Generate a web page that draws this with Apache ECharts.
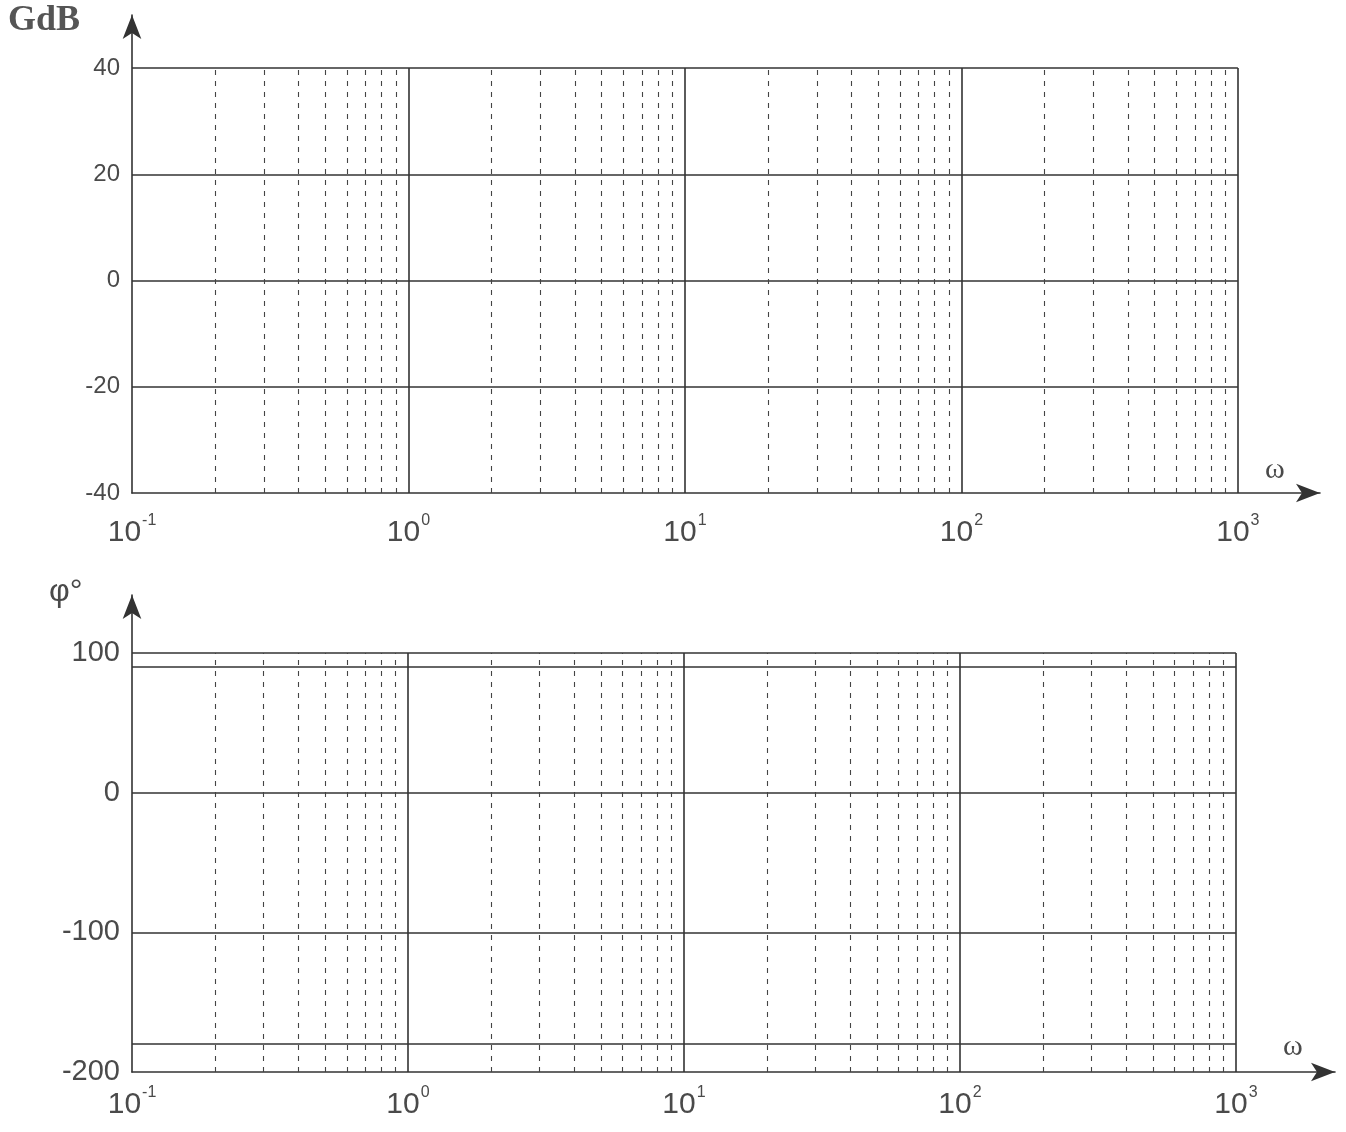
<!DOCTYPE html>
<html>
<head>
<meta charset="utf-8">
<script src="https://cdn.jsdelivr.net/npm/echarts@6/dist/echarts.min.js"></script>
<style>html,body{margin:0;padding:0;background:#fff;}#c{width:1346px;height:1132px;}</style>
</head>
<body>
<div id="c"></div>
<script>
// ---- data ----
const decades = [0.1, 1, 10, 100, 1000];           // ω decade marks
const minorMultipliers = [2, 3, 4, 5, 6, 7, 8, 9];  // dashed lines in each decade
const xTickExponents = [-1, 0, 1, 2, 3];            // tick labels 10^n
const gainTicks = [-40, -20, 0, 20, 40];            // GdB tick labels
const gainGridLines = [40, 20, 0, -20];             // horizontal solid lines (dB)
const gainRange = [-40, 40];
const phaseTicks = [-200, -100, 0, 100];            // φ° tick labels
const phaseGridLines = [100, 90, 0, -100, -180];    // horizontal solid lines (deg)
const phaseRange = [-200, 100];

// ---- build ----
const lg = Math.log10;
const wMin = decades[0], wMax = decades[decades.length - 1];

function verticals(solid, yr) {
  const out = [];
  if (solid) {
    decades.slice(1).forEach(d => out.push([{coord: [lg(d), yr[0]]}, {coord: [lg(d), yr[1]]}]));
  } else {
    decades.slice(0, -1).forEach(d => minorMultipliers.forEach(m => {
      out.push([{coord: [lg(d * m), yr[0]]}, {coord: [lg(d * m), yr[1]]}]);
    }));
  }
  return out;
}
function horizontals(vals) {
  return vals.map(v => [{coord: [lg(wMin), v]}, {coord: [lg(wMax), v]}]);
}

const lineCol = '#333';
const txtCol = '#4a4a4a';

function xAxisFor(gi, max, labelMargin) {
  return {
    type: 'value', gridIndex: gi, min: lg(wMin), max: max, interval: 1,
    axisLine: {onZero: false, show: true, symbol: ['none', 'arrow'], symbolSize: [14, 24],
      lineStyle: {color: lineCol, width: 1.6}},
    axisTick: {show: false}, splitLine: {show: false},
    axisLabel: {
      margin: labelMargin,
      showMaxLabel: true,
      formatter: v => xTickExponents.indexOf(Math.round(v * 1000) / 1000) >= 0 ? '{b|10}{s|' + Math.round(v) + '}' : '',
      rich: {
        b: {fontFamily: 'Liberation Sans', fontSize: 30, lineHeight: 40, color: txtCol, verticalAlign: 'middle'},
        s: {fontFamily: 'Liberation Sans', fontSize: 16, lineHeight: 16, color: txtCol, verticalAlign: 'top', padding: [0, 0, 0, 1]}
      }
    }
  };
}
function yAxisFor(gi, min, max, interval, ticks, fs) {
  return {
    type: 'value', gridIndex: gi, min: min, max: max, interval: interval,
    axisLine: {onZero: false, show: true, symbol: ['none', 'arrow'], symbolSize: [14, 24],
      lineStyle: {color: lineCol, width: 1.6}},
    axisTick: {show: false}, splitLine: {show: false},
    axisLabel: {
      margin: 12, showMaxLabel: true,
      fontFamily: 'Liberation Sans', fontSize: fs, color: txtCol,
      formatter: v => ticks.indexOf(v) >= 0 ? String(v) : ''
    }
  };
}
function gridSeries(gi, yr, hvals) {
  const common = {type: 'line', xAxisIndex: gi, yAxisIndex: gi, data: [], silent: true};
  return [
    Object.assign({}, common, {
      markLine: {symbol: 'none', silent: true, label: {show: false}, animation: false,
        lineStyle: {color: lineCol, width: 1.6, type: 'solid'},
        data: verticals(true, yr).concat(horizontals(hvals))}
    }),
    Object.assign({}, common, {
      markLine: {symbol: 'none', silent: true, label: {show: false}, animation: false,
        lineStyle: {color: '#444', width: 1.1, type: [5, 6]},
        data: verticals(false, yr)}
    })
  ];
}

const option = {
  animation: false,
  backgroundColor: '#fff',
  title: [
    {text: 'GdB', left: 8, top: 3, padding: 0, textStyle: {fontFamily: 'Liberation Serif', fontSize: 36, fontWeight: 'bold', color: '#555'}},
    {text: 'ω', left: 1265, top: 455, padding: 0, textStyle: {fontFamily: 'Liberation Serif', fontSize: 30, fontWeight: 'normal', color: txtCol}},
    {text: 'φ°', left: 49, top: 576, padding: 0, textStyle: {fontFamily: 'Liberation Sans', fontSize: 32, fontWeight: 'normal', color: txtCol}},
    {text: 'ω', left: 1283, top: 1032, padding: 0, textStyle: {fontFamily: 'Liberation Serif', fontSize: 30, fontWeight: 'normal', color: txtCol}}
  ],
  grid: [
    {left: 132, right: 26, top: 15, bottom: 639, containLabel: false},
    {left: 132, right: 11, top: 595, bottom: 60, containLabel: false}
  ],
  xAxis: [xAxisFor(0, 3.297, 20), xAxisFor(1, 3.359, 13)],
  yAxis: [
    yAxisFor(0, gainRange[0], 50, 20, gainTicks, 24),
    yAxisFor(1, phaseRange[0], 141.5, 100, phaseTicks, 29)
  ],
  series: gridSeries(0, gainRange, gainGridLines).concat(gridSeries(1, phaseRange, phaseGridLines))
};
const chart = echarts.init(document.getElementById('c'), null, {renderer: 'canvas'});
chart.setOption(option);
</script>
</body>
</html>
